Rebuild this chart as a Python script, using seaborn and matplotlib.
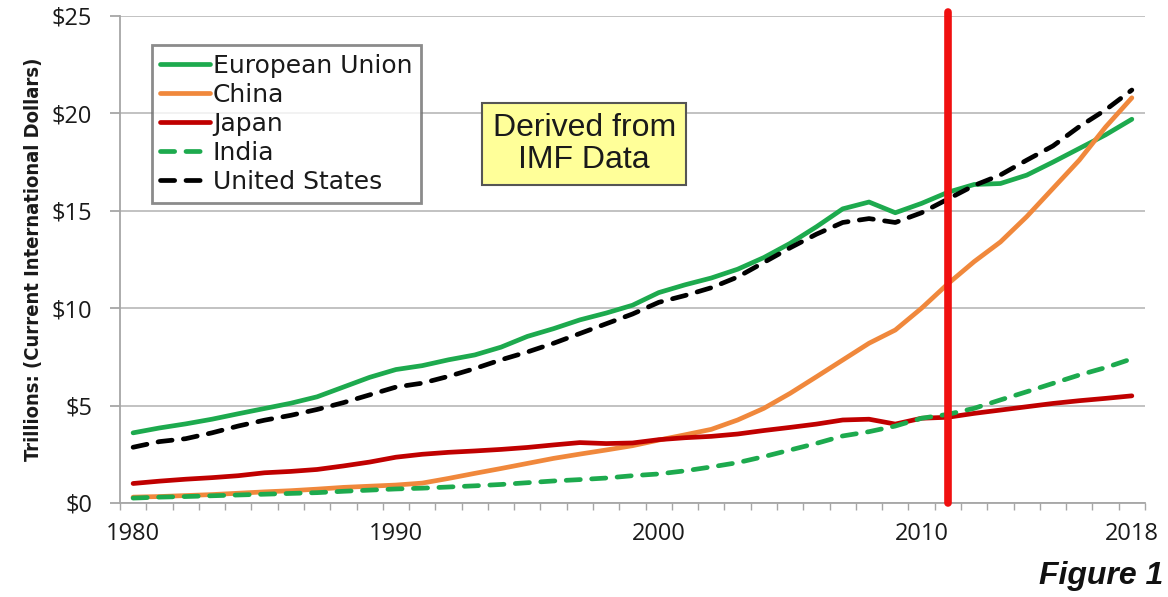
import numpy as np
import pandas as pd
import matplotlib
matplotlib.use("Agg")
import matplotlib.pyplot as plt
import seaborn as sns
from matplotlib.ticker import FuncFormatter, FixedLocator

# GDP (PPP), trillions of current international dollars, 1980-2018
years = list(range(1980, 2019))

european_union = [3.60, 3.85, 4.06, 4.30, 4.58, 4.85, 5.12, 5.45, 5.95, 6.45,
                  6.85, 7.05, 7.35, 7.60, 8.00, 8.55, 8.95, 9.40, 9.75, 10.15,
                  10.80, 11.20, 11.55, 12.00, 12.60, 13.33, 14.18, 15.10, 15.45, 14.90,
                  15.38, 15.95, 16.35, 16.40, 16.83, 17.50, 18.20, 18.90, 19.70]

china = [0.30, 0.33, 0.38, 0.43, 0.50, 0.57, 0.63, 0.71, 0.80, 0.86,
         0.92, 1.02, 1.26, 1.52, 1.77, 2.03, 2.29, 2.51, 2.72, 2.94,
         3.23, 3.50, 3.78, 4.26, 4.86, 5.63, 6.48, 7.34, 8.20, 8.88,
         10.00, 11.25, 12.39, 13.40, 14.70, 16.15, 17.60, 19.30, 20.80]

japan = [1.00, 1.12, 1.22, 1.30, 1.40, 1.55, 1.62, 1.72, 1.90, 2.10,
         2.35, 2.50, 2.60, 2.67, 2.75, 2.85, 2.98, 3.10, 3.05, 3.08,
         3.25, 3.35, 3.42, 3.54, 3.72, 3.88, 4.05, 4.26, 4.30, 4.05,
         4.35, 4.40, 4.60, 4.77, 4.94, 5.11, 5.25, 5.37, 5.50]

india = [0.25, 0.30, 0.33, 0.37, 0.41, 0.45, 0.49, 0.53, 0.60, 0.66,
         0.72, 0.76, 0.82, 0.88, 0.95, 1.04, 1.13, 1.20, 1.28, 1.40,
         1.49, 1.65, 1.85, 2.07, 2.38, 2.72, 3.06, 3.44, 3.66, 3.95,
         4.35, 4.55, 4.86, 5.29, 5.71, 6.14, 6.57, 6.95, 7.40]

united_states = [2.86, 3.15, 3.30, 3.60, 3.95, 4.25, 4.50, 4.80, 5.15, 5.55,
                 5.95, 6.15, 6.50, 6.90, 7.35, 7.75, 8.20, 8.70, 9.20, 9.70,
                 10.30, 10.65, 11.05, 11.60, 12.35, 13.10, 13.80, 14.40, 14.60, 14.40,
                 14.90, 15.60, 16.30, 16.84, 17.60, 18.33, 19.32, 20.18, 21.20]

series_names = ["European Union", "China", "Japan", "India", "United States"]
series_values = [european_union, china, japan, india, united_states]

x_tick_years = [1980, 1990, 2000, 2010, 2018]
y_ticks = [0, 5, 10, 15, 20, 25]
marker_year = 2011

colors = {"European Union": "#1DAA4E", "China": "#F0883C", "Japan": "#C00000",
          "India": "#1DAA4E", "United States": "#000000"}
dashed = {"India", "United States"}

sns.set_theme(style="white")
plt.rcParams["font.family"] = ["DejaVu Sans"]

fig = plt.figure(figsize=(11.68, 5.97), dpi=100)
ax = fig.add_axes([0.1027, 0.1575, 0.8776, 0.8157])

ax.set_xlim(1979.5, 2018.5)
ax.set_ylim(0, 25)

for y in y_ticks:
    ax.axhline(y, color="#BDBDBD", lw=1.3, zorder=0)

for name, vals in zip(series_names, series_values):
    df = pd.DataFrame({"year": years, "value": vals})
    sns.lineplot(data=df, x="year", y="value", ax=ax, color=colors[name],
                 lw=3.4, label=name, zorder=3)
    line = ax.lines[-1]
    line.set_solid_capstyle("round")
    if name in dashed:
        line.set_dashes((3.0, 2.4))
        line.set_dash_capstyle("round")

# Vertical marker at 2011
ax.axvline(marker_year, ymin=0, ymax=1.008, color="#F01010", lw=5.5,
           zorder=4, clip_on=False)

# Axes styling
for side in ["top", "right"]:
    ax.spines[side].set_visible(False)
for side in ["left", "bottom"]:
    ax.spines[side].set_color("#A6A6A6")
    ax.spines[side].set_linewidth(1.3)

ax.set_yticks(y_ticks)
ax.yaxis.set_major_formatter(FuncFormatter(lambda v, p: f"${int(v)}"))
ax.set_xticks(x_tick_years)
ax.set_xticklabels([str(y) for y in x_tick_years])
ax.xaxis.set_minor_locator(FixedLocator(np.arange(1979.5, 2019.0, 1.0)))
ax.tick_params(axis="x", which="major", length=0, pad=14, labelsize=17,
               labelcolor="#1a1a1a")
ax.tick_params(axis="x", which="minor", length=5, width=1, color="#A6A6A6",
               direction="out", bottom=True)
ax.tick_params(axis="y", which="major", length=7, width=1.3, color="#A6A6A6",
               pad=13, labelsize=17, labelcolor="#1a1a1a", left=True)
for lab in ax.get_xticklabels() + ax.get_yticklabels():
    lab.set_fontfamily(["Open Sans", "DejaVu Sans"])

ax.set_xlabel("")
ax.set_ylabel("Trillions: (Current International Dollars)", fontsize=14.5,
              fontweight="bold", fontstretch="condensed", color="#1a1a1a",
              labelpad=6)

leg = ax.legend(loc="upper left", bbox_to_anchor=(0.031, 0.94),
                borderaxespad=0, frameon=True, fancybox=False, fontsize=18,
                handlelength=2.0, handletextpad=0.1, labelspacing=0.2,
                borderpad=0.35)
leg.get_frame().set_edgecolor("#6E6E6E")
leg.get_frame().set_linewidth(2)
for t in leg.get_texts():
    t.set_color("#1a1a1a")

ax.text(0.453, 0.737, "Derived from\nIMF Data", transform=ax.transAxes,
        ha="center", va="center", fontsize=23, family="Liberation Sans",
        linespacing=1.1, color="#1a1a1a", zorder=6,
        bbox=dict(boxstyle="square,pad=0.32", facecolor="#FFFF99",
                  edgecolor="#555555", linewidth=1.5))

fig.text(0.996, 0.035, "Figure 1", ha="right", va="center", fontsize=23,
         family="Liberation Sans", fontweight="bold", fontstyle="italic",
         color="#111111")

fig.savefig("out.png", dpi=100)
